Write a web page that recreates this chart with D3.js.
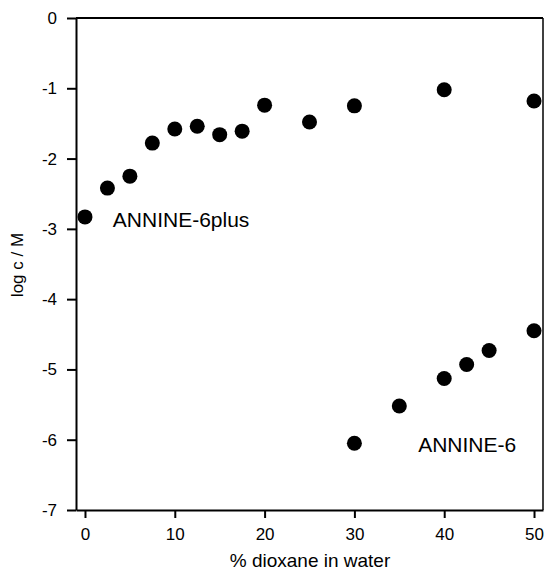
<!DOCTYPE html>
<html>
<head>
<meta charset="utf-8">
<script src="https://cdn.jsdelivr.net/npm/d3@7"></script>
<style>
  body { margin: 0; background: #fff; }
  svg text { font-family: Arial, "Liberation Sans", sans-serif; fill: #000; }
</style>
</head>
<body>
<div id="chart"></div>
<script>
// % dioxane in water vs log c / M
const plusX = [0, 2.5, 5, 7.5, 10, 12.5, 15, 17.5, 20, 25, 30, 40, 50]
const plusY = [-2.83, -2.42, -2.25, -1.78, -1.58, -1.54, -1.66, -1.61, -1.24, -1.48, -1.25, -1.02, -1.18]
const annX = [30, 35, 40, 42.5, 45, 50]
const annY = [-6.05, -5.52, -5.13, -4.93, -4.73, -4.45]
const xTicks = [0, 10, 20, 30, 40, 50]
const yTicks = [0, -1, -2, -3, -4, -5, -6, -7]
const seriesLabels = [
    { text: 'ANNINE-6plus', x: 3.1, y: -2.97 },
    { text: 'ANNINE-6', x: 37.1, y: -6.17 },
]

const width = 547, height = 575
const margin = { top: 18, right: 4, bottom: 65, left: 76 }

const svg = d3.select('#chart')
    .append('svg')
    .attr('width', width)
    .attr('height', height)

const x = d3.scaleLinear()
    .domain([-1, 51])
    .range([margin.left, width - margin.right])

const y = d3.scaleLinear()
    .domain([-7, 0])
    .range([height - margin.bottom, margin.top])

// frame: top and right lines
svg.append('line')
    .attr('x1', x(-1)).attr('x2', x(51))
    .attr('y1', y(0)).attr('y2', y(0))
    .style('stroke', '#000').style('stroke-width', 2)
svg.append('line')
    .attr('x1', x(51)).attr('x2', x(51))
    .attr('y1', y(0)).attr('y2', y(-7))
    .style('stroke', '#000').style('stroke-width', 1.5)

const xAxis = svg.append('g')
    .attr('transform', `translate(0, ${y(-7)})`)
    .call(d3.axisBottom(x).tickValues(xTicks).tickFormat(d => String(d))
        .tickSize(8).tickPadding(10).tickSizeOuter(0))

const yAxis = svg.append('g')
    .attr('transform', `translate(${x(-1)}, 0)`)
    .call(d3.axisLeft(y).tickValues(yTicks).tickFormat(d => String(d))
        .tickSize(9).tickPadding(10).tickSizeOuter(0))

for (let g of [xAxis, yAxis]) {
    g.selectAll('path, line').style('stroke', '#000').style('stroke-width', 2)
    g.selectAll('text').style('font-size', '17px').style('fill', '#000')
        .style('font-family', 'Arial, "Liberation Sans", sans-serif')
}

svg.selectAll('.dotPlus')
    .data(plusX.map((d, i) => [d, plusY[i]]))
    .enter()
    .append('circle')
    .attr('class', 'dotPlus')
    .attr('cx', d => x(d[0]))
    .attr('cy', d => y(d[1]))
    .attr('r', 7.5)
    .style('fill', '#000')

svg.selectAll('.dotAnn')
    .data(annX.map((d, i) => [d, annY[i]]))
    .enter()
    .append('circle')
    .attr('class', 'dotAnn')
    .attr('cx', d => x(d[0]))
    .attr('cy', d => y(d[1]))
    .attr('r', 7.5)
    .style('fill', '#000')

svg.selectAll('.seriesLabel')
    .data(seriesLabels)
    .enter()
    .append('text')
    .attr('class', 'seriesLabel')
    .attr('x', d => x(d.x))
    .attr('y', d => y(d.y))
    .style('font-size', '21px')
    .text(d => d.text)

// axis titles
svg.append('text')
    .attr('x', 310)
    .attr('y', 567)
    .attr('text-anchor', 'middle')
    .style('font-size', '19px')
    .text('% dioxane in water')

svg.append('text')
    .attr('transform', `translate(23, 265) rotate(-90)`)
    .attr('text-anchor', 'middle')
    .style('font-size', '17px')
    .text('log c / M')
</script>
</body>
</html>
